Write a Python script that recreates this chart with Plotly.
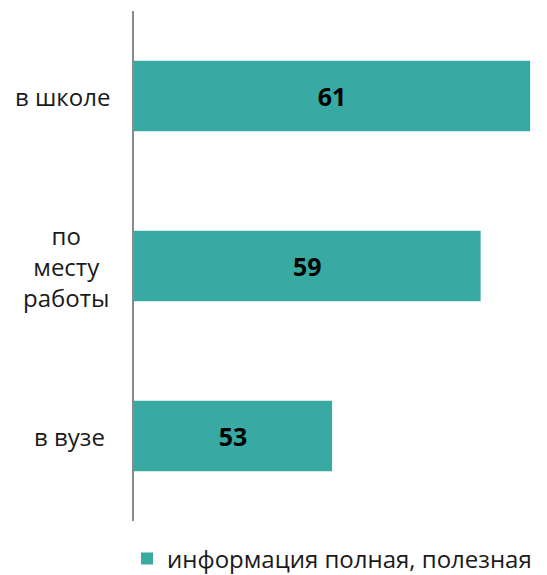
import plotly.graph_objects as go

categories = ["в школе", "по<br>месту<br>работы", "в вузе"]
values = [61, 59, 53]
series_name = "информация полная, полезная"

AXIS_MIN = 45
AXIS_MAX = 61.6
BAR_COLOR = "#38aaa3"
FONT = "Open Sans"

fig = go.Figure()
fig.add_trace(go.Bar(
    y=categories,
    x=[v - AXIS_MIN for v in values],
    base=AXIS_MIN,
    orientation="h",
    name=series_name,
    marker=dict(color=BAR_COLOR, line=dict(width=0)),
    text=[str(v) for v in values],
    textposition="inside",
    insidetextanchor="middle",
    textangle=0,
    textfont=dict(family=FONT, size=25, color="black", weight="bold"),
    showlegend=True,
))

label_x = [-0.175, -0.165, -0.158]
for c, lx in zip(categories, label_x):
    fig.add_annotation(
        x=lx, xref="paper", y=c, yref="y",
        text=c, showarrow=False, xanchor="center", yanchor="middle",
        align="center", font=dict(family=FONT, size=24, color="#1a1a1a"),
    )

fig.update_layout(
    width=547, height=575,
    margin=dict(l=126, r=10, t=3, b=62, autoexpand=False),
    paper_bgcolor="white", plot_bgcolor="white",
    bargap=0.585,
    font=dict(family=FONT, size=24, color="#1a1a1a"),
    xaxis=dict(range=[AXIS_MIN, AXIS_MAX], showgrid=False, zeroline=False,
               showticklabels=False, showline=False, ticks=""),
    yaxis=dict(autorange="reversed", showgrid=False, zeroline=False,
               showticklabels=False, showline=True, linecolor="#8a8a8a",
               linewidth=1.5, ticks=""),
    legend=dict(orientation="h", x=-0.017, xanchor="left",
                yref="container", y=0.042, yanchor="middle",
                font=dict(family=FONT, size=24, color="#1a1a1a"),
                itemwidth=30),
)

fig.write_html("out.html")
